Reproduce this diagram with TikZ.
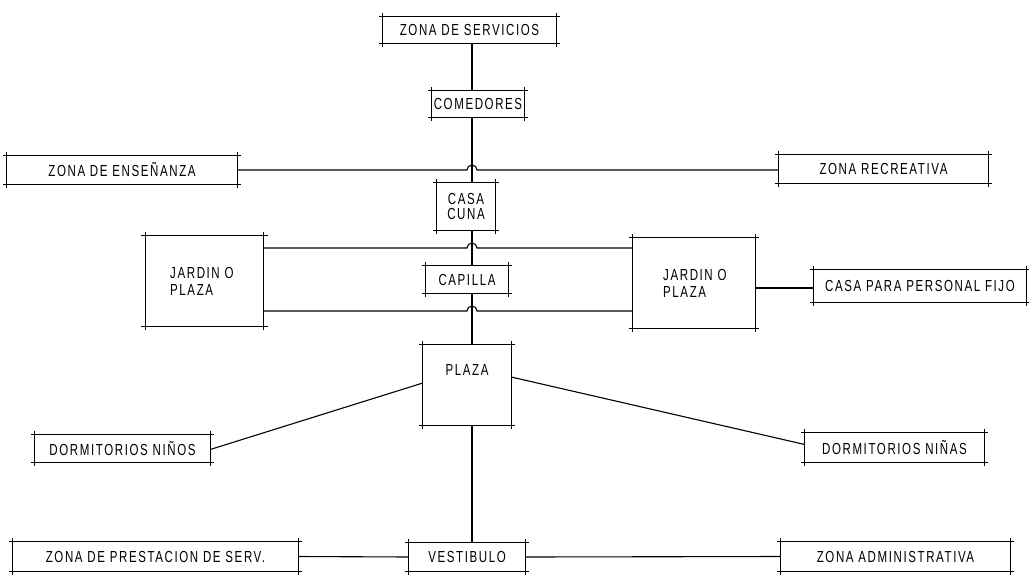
\documentclass[tikz,border=0pt]{standalone}
\usepackage{fontspec}
\setmainfont{Liberation Sans}[FakeStretch=0.72,LetterSpace=10]
\begin{document}
\begin{tikzpicture}[x=1pt,y=-1pt,
  zbox/.style={draw=none,inner sep=0pt,font=\fontsize{16}{17}\selectfont,align=center},
  jtext/.style={font=\fontsize{16}{17}\selectfont,align=left,anchor=west,inner sep=0pt},
  conn/.style={line width=1.1pt,black}]
\useasboundingbox (0,0) rectangle (1029,574);
\node[zbox,minimum width=173pt,minimum height=26pt] (serv) at (469.5,30) {ZONA DE SERVICIOS};
\node[zbox,minimum width=92pt,minimum height=26pt] (com) at (478,104) {COMEDORES};
\node[zbox,minimum width=230pt,minimum height=28pt] (ens) at (122,170) {ZONA DE ENSEÑANZA};
\node[zbox,minimum width=209pt,minimum height=28pt] (rec) at (883.5,169) {ZONA RECREATIVA};
\node[zbox,minimum width=58pt,minimum height=47pt] (cuna) at (466,206.5) {CASA\\[-2pt]CUNA};
\node[zbox,minimum width=118pt,minimum height=90pt] (jardL) at (204.5,281) {};
\node[jtext] (jardLt) at (170,281) {JARDIN O\\PLAZA};
\node[zbox,minimum width=122pt,minimum height=90pt] (jardR) at (694,283) {};
\node[jtext] (jardRt) at (663,283) {JARDIN O\\PLAZA};
\node[zbox,minimum width=82pt,minimum height=27pt] (cap) at (467,279.5) {CAPILLA};
\node[zbox,minimum width=212pt,minimum height=32pt] (pers) at (920,286) {CASA PARA PERSONAL FIJO};
\node[zbox,minimum width=88pt,minimum height=80pt,text depth=30pt] (plaza) at (467,385) {PLAZA};
\node[zbox,minimum width=175pt,minimum height=27pt] (ninos) at (122.5,448.5) {DORMITORIOS NIÑOS};
\node[zbox,minimum width=179pt,minimum height=29pt] (ninas) at (894.5,447.5) {DORMITORIOS NIÑAS};
\node[zbox,minimum width=116pt,minimum height=28pt] (vest) at (467,557) {VESTIBULO};
\node[zbox,minimum width=285pt,minimum height=29pt] (prest) at (155.5,556.5) {ZONA DE PRESTACION DE SERV.};
\node[zbox,minimum width=229pt,minimum height=29pt] (admin) at (895.5,556.5) {ZONA ADMINISTRATIVA};
% architectural boxes with overshooting corners
\foreach \n in {serv,com,ens,rec,cuna,jardL,jardR,cap,pers,plaza,ninos,ninas,vest,prest,admin}{
  \draw[conn] ([xshift=-4pt]\n.north west) -- ([xshift=4pt]\n.north east);
  \draw[conn] ([xshift=-4pt]\n.south west) -- ([xshift=4pt]\n.south east);
  \draw[conn] ([yshift=4pt]\n.north west) -- ([yshift=-4pt]\n.south west);
  \draw[conn] ([yshift=4pt]\n.north east) -- ([yshift=-4pt]\n.south east);
}
% spine
\coordinate (sx) at (472,0);
\draw[conn] (serv.south -| sx) -- (com.north -| sx);
\draw[conn] (com.south -| sx) -- (cuna.north -| sx);
\draw[conn] (cuna.south -| sx) -- (cap.north -| sx);
\draw[conn] (cap.south -| sx) -- (plaza.north -| sx);
\draw[conn] (plaza.south -| sx) -- (vest.north -| sx);
% crossings with hops
\coordinate (h1) at (472,170);
\coordinate (h2) at (472,248);
\coordinate (h3) at (472,311);
\draw[conn] (ens.east |- h1) -- ([xshift=-5pt]h1) arc[start angle=180,end angle=0,radius=5pt] -- (rec.west |- h1);
\draw[conn] (jardL.east |- h2) -- ([xshift=-5pt]h2) arc[start angle=180,end angle=0,radius=5pt] -- (jardR.west |- h2);
\draw[conn] (jardL.east |- h3) -- ([xshift=-5pt]h3) arc[start angle=180,end angle=0,radius=5pt] -- (jardR.west |- h3);
% other connectors
\coordinate (p1) at (0,288);
\draw[conn] (jardR.east |- p1) -- (pers.west |- p1);
\draw[conn] ([yshift=-1pt]ninos.east) -- ([yshift=2pt]plaza.west);
\draw[conn] ([yshift=8pt]plaza.east) -- ([yshift=3pt]ninas.west);
\draw[conn] (prest.east) -- (vest.west);
\draw[conn] (vest.east) -- (admin.west);
\end{tikzpicture}
\end{document}
